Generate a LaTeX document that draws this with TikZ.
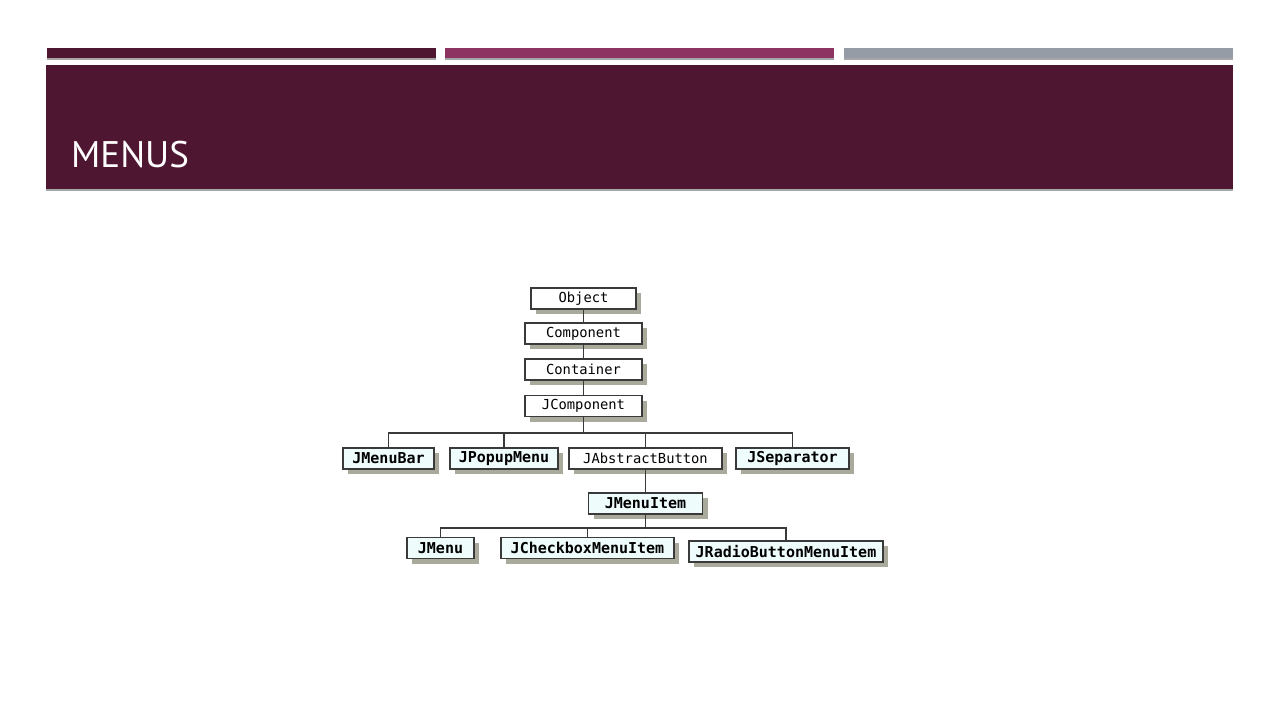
\documentclass[tikz,border=0pt]{standalone}
\usepackage{fontspec}
\setmainfont{PT Sans}
\setmonofont{DejaVu Sans Mono}
\usetikzlibrary{shadows}
\definecolor{plum}{HTML}{4F1632}
\definecolor{berry}{HTML}{8E3463}
\definecolor{slate}{HTML}{959CA5}
\definecolor{paleblue}{HTML}{EEFCFC}
\definecolor{shade}{HTML}{A9A99C}
\definecolor{wire}{HTML}{3A3A3A}
\begin{document}
\begin{tikzpicture}[x=1pt,y=-1pt,%
% common options for the class boxes:
cls/.style = {draw=wire, fill=white, line width=1.1pt, align=center, inner sep=0,
            minimum height=21pt, font=\ttfamily\fontsize{13.8}{14}\selectfont,
            drop shadow={shadow xshift=5pt, shadow yshift=-5pt, fill=shade, opacity=1}},
% swing classes in bold:
swing/.style = {cls, fill=paleblue, font=\ttfamily\bfseries\fontsize{15}{16}\selectfont},
% coloured bars of the header:
bar/.style = {draw=none, drop shadow={shadow xshift=0pt, shadow yshift=-2pt, fill=black!35, opacity=1}},
% connectors:
link/.style = {draw=wire, line width=1.2pt}]
\useasboundingbox (0,0) rectangle (1280,720);
\fill[white] (0,0) rectangle (1280,720);
\fill[plum,bar] (47,48) rectangle (436,58);
\fill[berry,bar] (445,48) rectangle (834,58);
\fill[slate,bar] (844,48) rectangle (1233,58);
\fill[plum,bar] (46,65) rectangle (1233,189);
\node[anchor=base west, inner sep=0, text=white, font=\fontsize{37}{40}\selectfont] (title) at (71,167) {MENUS};
\node[cls, minimum width=105pt] (Obj) at (583.5,298.5) {Object};
\node[cls, minimum width=117pt] (Comp) at (583.5,333.5) {Component};
\node[cls, minimum width=117pt] (Cont) at (583.5,369.5) {Container};
\node[cls, minimum width=117pt] (JComp) at (583.5,406) {JComponent};
\node[swing, minimum width=91pt] (JBar) at (388.5,458.5) {JMenuBar};
\node[swing, minimum width=108pt] (JPopup) at (504,458.5) {JPopupMenu};
\node[cls, minimum width=153pt] (JAbs) at (645.5,458.5) {JAbstractButton};
\node[swing, minimum width=113pt] (JSep) at (792.5,458.5) {JSeparator};
\node[swing, minimum width=114pt] (JItem) at (645.5,503.5) {JMenuItem};
\node[swing, minimum width=67pt] (JMenu) at (440.5,548) {JMenu};
\node[swing, minimum width=173pt] (JCheck) at (587.5,548) {JCheckboxMenuItem};
\node[swing, minimum width=194pt] (JRadio) at (786,551.5) {JRadioButtonMenuItem};
\coordinate (busA) at (0,433);
\coordinate (busB) at (0,528);
\draw[link] (Obj.south) to (Comp.north);
\draw[link] (Comp.south) to (Cont.north);
\draw[link] (Cont.south) to (JComp.north);
\draw[link] (JComp.south) to (JComp.south |- busA);
\draw[link] (JBar.north) -- (JBar.north |- busA) -| (JSep.north);
\draw[link] (JPopup.north) to (JPopup.north |- busA);
\draw[link] (JAbs.north) to (JAbs.north |- busA);
\draw[link] (JAbs.south) to (JItem.north);
\draw[link] (JItem.south) to (JItem.south |- busB);
\draw[link] (JMenu.north) -- (JMenu.north |- busB) -| (JRadio.north);
\draw[link] (JCheck.north) to (JCheck.north |- busB);
\end{tikzpicture}
\end{document}
